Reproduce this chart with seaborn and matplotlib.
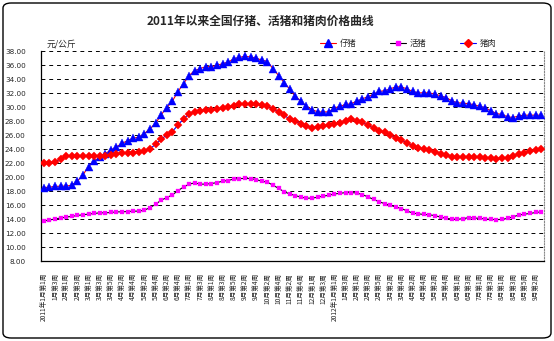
import numpy as np
import matplotlib
matplotlib.use("Agg")
import matplotlib.pyplot as plt
import seaborn as sns
from matplotlib.lines import Line2D
from matplotlib.patches import FancyBboxPatch
from matplotlib.ticker import FixedLocator, FormatStrFormatter

sns.set_style("white")
plt.rcParams['font.family'] = ['Noto Sans CJK SC', 'DejaVu Sans']
plt.rcParams['axes.unicode_minus'] = False

title = "2011年以来全国仔猪、活猪和猪肉价格曲线"
unit_label = "元/公斤"
series_names = ["仔猪", "活猪", "猪肉"]

piglet = [18.47, 18.56, 18.65, 18.7, 18.7, 18.84, 19.4, 20.3, 21.5, 22.3, 22.8, 23.35,
          23.85, 24.3, 24.8, 25.2, 25.55, 25.7, 26.2, 26.9, 27.65, 28.9, 29.9,
          30.84, 32.19, 33.35, 34.5, 35.2, 35.5, 35.77, 35.77, 35.95, 36.2, 36.4, 36.9,
          37.1, 37.25, 37.15, 36.97, 36.7, 36.5, 35.5, 34.5, 33.5, 32.55,
          31.53, 30.84, 30.09, 29.63, 29.3, 29.3, 29.3, 29.86, 30.09, 30.37, 30.47,
          30.84, 31.16, 31.49, 31.81, 32.23, 32.33, 32.6, 32.88, 32.88, 32.56, 32.23,
          32.0, 32.05, 32.0, 31.86, 31.58, 31.35, 30.88, 30.6, 30.56, 30.47, 30.33,
          30.09, 29.9, 29.44, 29.07, 28.93, 28.6, 28.5, 28.74, 28.84, 28.84, 28.84, 28.84]

live_hog = [13.72, 13.86, 14.0, 14.14, 14.28, 14.37, 14.51, 14.6, 14.7, 14.79, 14.88, 14.88,
            14.93, 15.02, 15.02, 15.07, 15.12, 15.12, 15.26, 15.63, 16.09, 16.7, 17.05,
            17.44, 18.05, 18.56, 18.98, 19.16, 18.98, 18.98, 19.07, 19.2, 19.4, 19.5, 19.72,
            19.77, 19.8, 19.77, 19.63, 19.4, 19.26, 18.84, 18.37, 17.9, 17.58,
            17.35, 17.12, 16.98, 16.98, 17.12, 17.26, 17.4, 17.58, 17.67, 17.77, 17.77,
            17.72, 17.49, 17.16, 16.79, 16.47, 16.19, 15.95, 15.72, 15.49, 15.16, 14.84,
            14.74, 14.65, 14.6, 14.47, 14.28, 14.09, 14.0, 13.95, 14.05, 14.19, 14.14,
            14.09, 14.0, 13.95, 13.91, 13.95, 14.09, 14.33, 14.56, 14.7, 14.79, 14.93, 15.02]

pork = [22.0, 22.05, 22.2, 22.55, 23.0, 23.0, 23.0, 23.0, 23.0, 23.0, 23.05, 23.05,
        23.15, 23.25, 23.4, 23.5, 23.5, 23.6, 23.7, 24.05, 24.65, 25.4, 26.0,
        26.5, 27.4, 28.33, 29.0, 29.35, 29.44, 29.53, 29.58, 29.67, 29.86, 30.0, 30.19,
        30.37, 30.42, 30.42, 30.37, 30.28, 30.1, 29.72, 29.3, 28.8, 28.3,
        27.95, 27.58, 27.26, 27.07, 27.12, 27.3, 27.44, 27.53, 27.67, 28.0, 28.23,
        28.05, 27.81, 27.4, 26.98, 26.51, 26.37, 26.0, 25.58, 25.26, 24.88, 24.47,
        24.19, 23.95, 23.81, 23.63, 23.3, 23.12, 22.84, 22.79, 22.84, 22.84, 22.84,
        22.79, 22.7, 22.65, 22.56, 22.65, 22.7, 23.02, 23.3, 23.49, 23.67, 23.86, 23.95]

x_labels = ["2011年1月第1周", "1月第3周", "2月第1周", "2月第3周", "3月第1周", "3月第3周",
            "3月第5周", "4月第2周", "4月第4周", "5月第2周", "5月第4周", "6月第2周",
            "6月第4周", "7月第1周", "7月第3周", "8月第1周", "8月第3周", "8月第5周",
            "9月第2周", "9月第4周", "10月第2周", "10月第4周", "11月第2周", "11月第4周",
            "12月第1周", "12月第3周", "2012年1月第1周", "1月第3周", "2月第1周", "2月第3周",
            "2月第5周", "3月第2周", "3月第4周", "4月第2周", "4月第4周", "5月第2周",
            "5月第4周", "6月第1周", "6月第3周", "7月第1周", "7月第3周", "8月第1周",
            "8月第3周", "8月第5周", "9月第2周"]

y_ticks = [8, 10, 12, 14, 16, 18, 20, 22, 24, 26, 28, 30, 32, 34, 36, 38]

W, H = 554, 341
fig = plt.figure(figsize=(W / 100, H / 100), dpi=100)
fig.patch.set_facecolor("white")
ax = fig.add_axes([41 / W, 1 - 261 / H, (544 - 41) / W, (261 - 51) / H])

idx = np.arange(len(piglet))

sns.lineplot(x=idx, y=piglet, ax=ax, color="#ff0000", lw=0.8, marker="^",
             markersize=5.6, markerfacecolor="#0000ff", markeredgecolor="#0000ff",
             markeredgewidth=0.3, zorder=3)
sns.lineplot(x=idx, y=live_hog, ax=ax, color="#000000", lw=0.8, marker="s",
             markersize=2.6, markerfacecolor="#ff00ff", markeredgecolor="#ff00ff",
             markeredgewidth=0.2, zorder=3)
sns.lineplot(x=idx, y=pork, ax=ax, color="#0000ff", lw=0.8, marker="D",
             markersize=4.4, markerfacecolor="#ff0000", markeredgecolor="#ff0000",
             markeredgewidth=0.3, zorder=3)

ax.set_xlim(-0.5, len(piglet) - 0.5)
ax.set_ylim(8, 38)
ax.yaxis.set_major_locator(FixedLocator(y_ticks))
ax.yaxis.set_major_formatter(FormatStrFormatter("%.2f"))
ax.set_xticks(idx[::2])
ax.set_xticklabels(x_labels, rotation=90, fontsize=4.8, va="top", ha="center")
ax.set_xticks(np.arange(0.5, len(piglet) - 0.5, 1), minor=True)
ax.tick_params(axis="x", which="major", length=0, pad=8.5)
ax.tick_params(axis="x", which="minor", length=2.5, direction="in", width=0.6, color="black")
ax.tick_params(axis="y", which="major", length=2.5, direction="in", width=0.6,
               labelsize=5.2, pad=11, color="black")
for lab in ax.get_yticklabels():
    lab.set_fontfamily("DejaVu Sans")

for v in y_ticks[1:]:
    ax.axhline(v, color="black", lw=0.7, ls=(0, (4, 4)), zorder=1)

ax.set_xlabel("")
ax.set_ylabel("")
ax.spines["top"].set_visible(False)
ax.spines["left"].set_color("black")
ax.spines["left"].set_linewidth(0.9)
ax.spines["bottom"].set_color("black")
ax.spines["bottom"].set_linewidth(0.9)
ax.spines["right"].set_color("#888888")
ax.spines["right"].set_linewidth(0.8)
ax.spines["right"].set_linestyle((0, (1, 1.5)))

fig.text(260 / W, 1 - 21 / H, title, ha="center", va="center", fontsize=8.5,
         fontweight="bold")
fig.text(47 / W, 1 - 44 / H, unit_label, ha="left", va="center", fontsize=6.3)

handles = [
    Line2D([], [], color="#ff0000", lw=0.8, marker="^", markersize=5.6,
           markerfacecolor="#0000ff", markeredgecolor="#0000ff"),
    Line2D([], [], color="#000000", lw=0.8, marker="s", markersize=2.6,
           markerfacecolor="#ff00ff", markeredgecolor="#ff00ff"),
    Line2D([], [], color="#0000ff", lw=0.8, marker="D", markersize=4.4,
           markerfacecolor="#ff0000", markeredgecolor="#ff0000"),
]
fig.legend(handles, series_names, ncol=3, loc="center",
           bbox_to_anchor=(408 / W, 1 - 43 / H), frameon=False, fontsize=6,
           handlelength=2.0, handletextpad=0.4, columnspacing=4.0,
           borderaxespad=0, borderpad=0)

fig.patches.append(FancyBboxPatch((3 / W, 3 / H), (548 / W), (335 / H),
                                  boxstyle="round,pad=0,rounding_size=0.015",
                                  transform=fig.transFigure, fill=False,
                                  ec="black", lw=1.0))

fig.savefig("out.png", dpi=100, facecolor="white")
